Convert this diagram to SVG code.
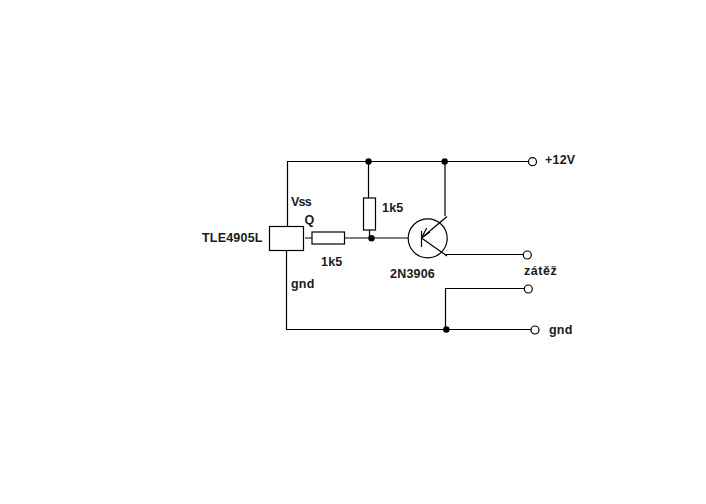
<svg xmlns="http://www.w3.org/2000/svg" width="706" height="504" viewBox="0 0 706 504">
<style>
.w{fill:none;stroke:#000;stroke-width:1.2}
.b{fill:#fff;stroke:#000;stroke-width:1.2}
.d{fill:#000;stroke:none}
text{font-family:"Liberation Sans",Arial,sans-serif;font-size:12.5px;font-weight:bold;fill:#1a1a1a;letter-spacing:.2px}
</style>
<rect width="706" height="504" fill="#fff"/>
<g id="connectors">
<path class="w" d="M287.5 226.5V161.5H528"/>
<path class="w" d="M368.5 161.5V198M369.5 230V238"/>
<path class="w" d="M445 161.5V216"/>
<path class="w" d="M286.5 250.5V329.5H531"/>
<path class="w" d="M305 238H312M344.5 238H408"/>
<path class="w" d="M445.5 329.5V288.5H524"/>
<path class="w" d="M445 254.5H523"/>
</g>
<g id="chip"><rect class="b" x="269.5" y="226.5" width="34" height="24"/><text x="202" y="242">TLE4905L</text><text x="291" y="206" textLength="21">Vss</text><text x="304.5" y="224">Q</text><text x="291" y="288">gnd</text></g>
<g id="r1"><rect class="b" x="312" y="232" width="32.5" height="12"/><text x="321" y="266">1k5</text></g>
<g id="r2"><rect class="b" x="363.5" y="198" width="12" height="32"/><text x="382" y="212">1k5</text></g>
<g id="j1"><circle class="d" cx="368.5" cy="161.5" r="3.2"/></g>
<g id="j2"><circle class="d" cx="371.5" cy="238.3" r="3.2"/></g>
<g id="j3"><circle class="d" cx="444.7" cy="161.5" r="3.2"/></g>
<g id="j4"><circle class="d" cx="446.3" cy="329.5" r="3.2"/></g>
<g id="q1">
<circle class="w" cx="427.7" cy="238.3" r="19.5"/>
<path class="w" d="M421.5 231V247M421.5 238L447 216.5M421.5 238L447 256"/>
<path class="w" d="M421.5 238L426.7 228M421.5 238L430 232"/>
<text x="390" y="278">2N3906</text>
</g>
<g id="t1"><circle class="b" cx="532.5" cy="161.7" r="4"/><text x="545" y="164">+12V</text></g>
<g id="t2"><circle class="b" cx="527.3" cy="255" r="4"/><text x="524" y="275" textLength="33">zátěž</text></g>
<g id="t3"><circle class="b" cx="528.3" cy="289" r="4"/></g>
<g id="t4"><circle class="b" cx="535" cy="330" r="4"/><text x="549" y="334">gnd</text></g>
</svg>
